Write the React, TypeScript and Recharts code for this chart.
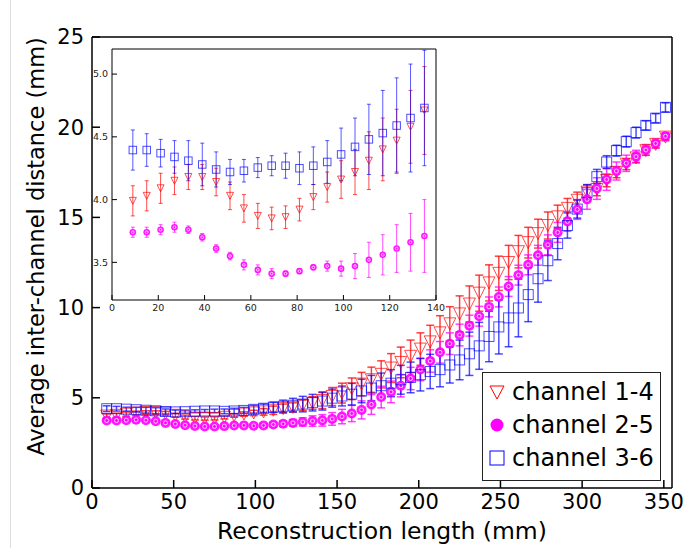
import React from "react";
import { ComposedChart, Scatter, ErrorBar, XAxis, YAxis, CartesianGrid, Label } from "recharts";

// reconstruction length (mm)
const lengths = [
  9, 15, 21, 27, 33, 39, 45, 51, 57, 63, 69, 75, 81, 87, 93, 99, 105, 111, 117, 123, 129, 135,
  141, 147, 153, 159, 165, 171, 177, 183, 189, 195, 201, 207, 213, 219, 225, 231, 237, 243,
  249, 255, 261, 267, 273, 279, 285, 291, 297, 303, 309, 315, 321, 327, 333, 339, 345, 351,
];

const ch14 = [
  3.99, 4.03, 4.09, 4.15, 4.18, 4.18, 4.14, 4.03, 3.93, 3.87, 3.85, 3.86, 3.92, 4.02, 4.1, 4.16, 4.22, 4.31, 4.4, 4.47, 4.58, 4.71,
  4.85, 5.07, 5.26, 5.5, 5.76, 6.0, 6.3, 6.65, 6.96, 7.3, 7.7, 8.1, 8.6, 9.1, 9.65, 10.2, 10.8, 11.37,
  11.9, 12.5, 13.1, 13.6, 14.1, 14.55, 15.03, 15.5, 15.95, 16.4, 16.55, 17.05, 17.5, 17.95, 18.3, 18.7, 19.05, 19.45,
];
const ch14Err = [
  0.12, 0.12, 0.12, 0.11, 0.1, 0.1, 0.11, 0.11, 0.11, 0.1, 0.09, 0.09, 0.09, 0.1, 0.12, 0.15, 0.18, 0.23, 0.25, 0.25, 0.29, 0.35,
  0.45, 0.5, 0.55, 0.6, 0.65, 0.7, 0.75, 0.8, 0.85, 0.9, 0.9, 0.92, 0.95, 0.95, 1.0, 1.0, 1.0, 1.0,
  0.95, 0.95, 0.9, 0.85, 0.8, 0.75, 0.65, 0.55, 0.45, 0.4, 0.35, 0.35, 0.3, 0.3, 0.25, 0.25, 0.2, 0.2,
];

const ch25 = [
  3.74, 3.74, 3.76, 3.78, 3.76, 3.7, 3.61, 3.55, 3.48, 3.44, 3.41, 3.41, 3.43, 3.46, 3.47, 3.45, 3.47, 3.52, 3.56, 3.61, 3.66, 3.71,
  3.75, 3.83, 3.96, 4.13, 4.33, 4.63, 5.04, 5.33, 5.67, 6.07, 6.57, 7.04, 7.52, 8.0, 8.48, 9.0, 9.52, 10.04,
  10.59, 11.17, 11.8, 12.37, 12.9, 13.48, 14.17, 14.78, 15.44, 16.0, 16.6, 17.1, 17.57, 18.0, 18.37, 18.74, 19.1, 19.5,
];
const ch25Err = [
  0.04, 0.04, 0.04, 0.04, 0.03, 0.03, 0.03, 0.03, 0.04, 0.04, 0.04, 0.02, 0.02, 0.02, 0.04, 0.06, 0.1, 0.14, 0.16, 0.19, 0.23, 0.29,
  0.32, 0.35, 0.4, 0.45, 0.5, 0.55, 0.6, 0.6, 0.62, 0.62, 0.62, 0.62, 0.6, 0.6, 0.6, 0.58, 0.55, 0.55,
  0.55, 0.55, 0.55, 0.55, 0.55, 0.55, 0.55, 0.55, 0.55, 0.55, 0.6, 0.6, 0.5, 0.45, 0.35, 0.3, 0.25, 0.2,
];

const ch36 = [
  4.395, 4.395, 4.37, 4.34, 4.31, 4.28, 4.24, 4.22, 4.23, 4.255, 4.27, 4.27, 4.25, 4.27, 4.3, 4.36, 4.42, 4.48, 4.53, 4.59, 4.65, 4.73,
  4.82, 4.98, 5.1, 5.2, 5.38, 5.54, 5.67, 5.81, 6.0, 6.13, 6.28, 6.46, 6.56, 6.82, 7.1, 7.44, 7.88, 8.4,
  8.93, 9.43, 9.98, 10.72, 11.6, 12.6, 13.55, 14.55, 15.46, 16.37, 17.26, 18.07, 18.7, 19.2, 19.7, 20.1, 20.5, 21.1,
];
const ch36Err = [
  0.16, 0.13, 0.11, 0.13, 0.16, 0.17, 0.14, 0.1, 0.09, 0.08, 0.08, 0.1, 0.13, 0.15, 0.17, 0.21, 0.23, 0.28, 0.34, 0.38, 0.43, 0.46,
  0.5, 0.5, 0.55, 0.6, 0.65, 0.7, 0.7, 0.75, 0.8, 0.85, 0.9, 0.95, 0.95, 1.0, 1.1, 1.2, 1.3, 1.4,
  1.5, 1.6, 1.6, 1.5, 1.3, 1.1, 0.9, 0.7, 0.5, 0.45, 0.4, 0.35, 0.3, 0.3, 0.3, 0.25, 0.25, 0.25,
];

const mainXTicks = [0, 50, 100, 150, 200, 250, 300, 350];
const mainYTicks = [0, 5, 10, 15, 20, 25];
const insetXTicks = [0, 20, 40, 60, 80, 100, 120, 140];
const insetYTicks = [3.5, 4.0, 4.5, 5.0];
const insetMaxLength = 135;

const RED = "#ff0000";
const MAGENTA = "#ff00ff";
const BLUE = "#0000ff";

const toRows = (vals: number[], errs: number[]) =>
  lengths.map((x, i) => ({ x, y: vals[i], e: errs[i] }));

const d14 = toRows(ch14, ch14Err);
const d25 = toRows(ch25, ch25Err);
const d36 = toRows(ch36, ch36Err);

const triangle = (s: number) => (p: any) => (
  <path
    d={`M${p.cx - s / 2},${p.cy - s / 2} L${p.cx + s / 2},${p.cy - s / 2} L${p.cx},${p.cy + s / 2} Z`}
    fill="none"
    stroke={RED}
    strokeOpacity={0.7}
    strokeWidth={1}
  />
);
const circle = (r: number) => (p: any) => (
  <g>
    <circle cx={p.cx} cy={p.cy} r={r} fill={MAGENTA} fillOpacity={0.9} />
    <circle cx={p.cx} cy={p.cy} r={r * 0.4} fill="none" stroke="#ffc8ff" strokeWidth={1} />
  </g>
);
const square = (s: number) => (p: any) => (
  <rect
    x={p.cx - s / 2}
    y={p.cy - s / 2}
    width={s}
    height={s}
    fill="none"
    stroke={BLUE}
    strokeOpacity={0.7}
    strokeWidth={1}
  />
);

const FONT = "'DejaVu Sans', sans-serif";

function Legend() {
  const rows = [
    { label: "channel 1-4", mark: <path d="M2,3 L16,3 L9,16 Z" fill="none" stroke={RED} strokeWidth={1} /> },
    { label: "channel 2-5", mark: <circle cx={9} cy={9} r={6.5} fill={MAGENTA} /> },
    { label: "channel 3-6", mark: <rect x={2} y={2} width={14} height={14} fill="none" stroke={BLUE} strokeWidth={1} /> },
  ];
  return (
    <div
      style={{
        position: "absolute",
        left: 482,
        top: 372,
        width: 177,
        height: 107,
        border: "1.5px solid #222",
        background: "#fff",
        fontFamily: FONT,
        fontSize: 24,
      }}
    >
      {rows.map((r, i) => (
        <div key={i} style={{ position: "absolute", left: 5, top: 3 + i * 33, height: 32, display: "flex", alignItems: "center" }}>
          <svg width={18} height={18} style={{ marginRight: 6 }}>
            {r.mark}
          </svg>
          <span>{r.label}</span>
        </div>
      ))}
    </div>
  );
}

export default function App() {
  const axisStroke = { stroke: "#000", strokeWidth: 1.5 };
  return (
    <div style={{ position: "absolute", left: 0, top: 0, width: 686, height: 548, background: "#fff", fontFamily: FONT }}>
      <div style={{ position: "absolute", left: 10, top: 0, width: 1, height: 548, background: "#ddd" }} />
      <ComposedChart width={686} height={548} margin={{ top: 36, right: 13, bottom: 0, left: 0 }}>
        <XAxis
          xAxisId="b"
          type="number"
          dataKey="x"
          domain={[0, 355]}
          ticks={mainXTicks}
          allowDataOverflow
          height={60}
          tickSize={-8}
          tickMargin={14}
          axisLine={axisStroke}
          tickLine={axisStroke}
          tick={{ fontSize: 21, fill: "#000" }}
        >
          <Label value="Reconstruction length (mm)" position="insideBottom" offset={9} style={{ fontSize: 23.5, fill: "#000" }} />
        </XAxis>
        <XAxis
          xAxisId="t"
          orientation="top"
          type="number"
          dataKey="x"
          domain={[0, 355]}
          ticks={mainXTicks}
          allowDataOverflow
          height={1}
          tickSize={-8}
          tick={false}
          axisLine={axisStroke}
          tickLine={axisStroke}
        />
        <YAxis
          yAxisId="l"
          type="number"
          domain={[0, 25]}
          ticks={mainYTicks}
          allowDataOverflow
          width={92}
          tickSize={-8}
          tickMargin={16}
          axisLine={axisStroke}
          tickLine={axisStroke}
          tick={{ fontSize: 21, fill: "#000" }}
        >
          <Label
            value="Average inter-channel distance (mm)"
            angle={-90}
            position="center"
            dx={-10}
            dy={-16}
            style={{ fontSize: 22.5, fill: "#000", textAnchor: "middle" }}
          />
        </YAxis>
        <YAxis
          yAxisId="r"
          orientation="right"
          type="number"
          domain={[0, 25]}
          ticks={mainYTicks}
          allowDataOverflow
          width={1}
          tickSize={-8}
          tick={false}
          axisLine={axisStroke}
          tickLine={axisStroke}
        />
        <Scatter xAxisId="b" yAxisId="l" data={d14} dataKey="y" shape={triangle(12)} isAnimationActive={false}>
          <ErrorBar dataKey="e" direction="y" width={4} stroke={RED} strokeOpacity={0.75} strokeWidth={1.5} />
        </Scatter>
        <Scatter xAxisId="b" yAxisId="l" data={d25} dataKey="y" shape={circle(5)} isAnimationActive={false}>
          <ErrorBar dataKey="e" direction="y" width={4} stroke={MAGENTA} strokeOpacity={0.75} strokeWidth={1.5} />
        </Scatter>
        <Scatter xAxisId="b" yAxisId="l" data={d36} dataKey="y" shape={square(10)} isAnimationActive={false}>
          <ErrorBar dataKey="e" direction="y" width={4} stroke={BLUE} strokeOpacity={0.7} strokeWidth={1.5} />
        </Scatter>
        <Scatter xAxisId="t" yAxisId="r" data={[]} dataKey="y" isAnimationActive={false} />
      </ComposedChart>

      <div style={{ position: "absolute", left: 86, top: 40 }}>
        <ComposedChart width={360} height={282} margin={{ top: 8, right: 9, bottom: 0, left: 0 }}>
          <CartesianGrid xAxisId="b" yAxisId="l" fill="#fff" stroke="none" horizontal={false} vertical={false} />
          <XAxis
            xAxisId="b"
            type="number"
            dataKey="x"
            domain={[0, 140]}
            ticks={insetXTicks}
            allowDataOverflow
            height={22}
            tickSize={-5}
            tickMargin={9}
            axisLine={{ stroke: "#000" }}
            tickLine={{ stroke: "#000" }}
            tick={{ fontSize: 9.5, fill: "#222" }}
          />
          <XAxis xAxisId="t" orientation="top" type="number" dataKey="x" domain={[0, 140]} ticks={insetXTicks} allowDataOverflow height={1} tickSize={-5} tick={false} axisLine={{ stroke: "#000" }} tickLine={{ stroke: "#000" }} />
          <YAxis
            yAxisId="l"
            type="number"
            domain={[3.2, 5.2]}
            ticks={insetYTicks}
            allowDataOverflow
            width={26}
            tickSize={-5}
            tickMargin={9}
            axisLine={{ stroke: "#000" }}
            tickLine={{ stroke: "#000" }}
            tickFormatter={(v: number) => v.toFixed(1)}
            tick={{ fontSize: 9.5, fill: "#222" }}
          />
          <YAxis yAxisId="r" orientation="right" type="number" domain={[3.2, 5.2]} ticks={insetYTicks} allowDataOverflow width={1} tickSize={-5} tick={false} axisLine={{ stroke: "#000" }} tickLine={{ stroke: "#000" }} />
          <Scatter xAxisId="b" yAxisId="l" data={d14.filter((d) => d.x <= insetMaxLength)} dataKey="y" shape={triangle(7)} isAnimationActive={false}>
            <ErrorBar dataKey="e" direction="y" width={2} stroke={RED} strokeOpacity={0.7} strokeWidth={1} />
          </Scatter>
          <Scatter xAxisId="b" yAxisId="l" data={d25.filter((d) => d.x <= insetMaxLength)} dataKey="y" shape={circle(3.3)} isAnimationActive={false}>
            <ErrorBar dataKey="e" direction="y" width={2} stroke={MAGENTA} strokeOpacity={0.7} strokeWidth={1} />
          </Scatter>
          <Scatter xAxisId="b" yAxisId="l" data={d36.filter((d) => d.x <= insetMaxLength)} dataKey="y" shape={square(7.5)} isAnimationActive={false}>
            <ErrorBar dataKey="e" direction="y" width={2} stroke={BLUE} strokeOpacity={0.65} strokeWidth={1} />
          </Scatter>
          <Scatter xAxisId="t" yAxisId="r" data={[]} dataKey="y" isAnimationActive={false} />
        </ComposedChart>
      </div>

      <Legend />
    </div>
  );
}
